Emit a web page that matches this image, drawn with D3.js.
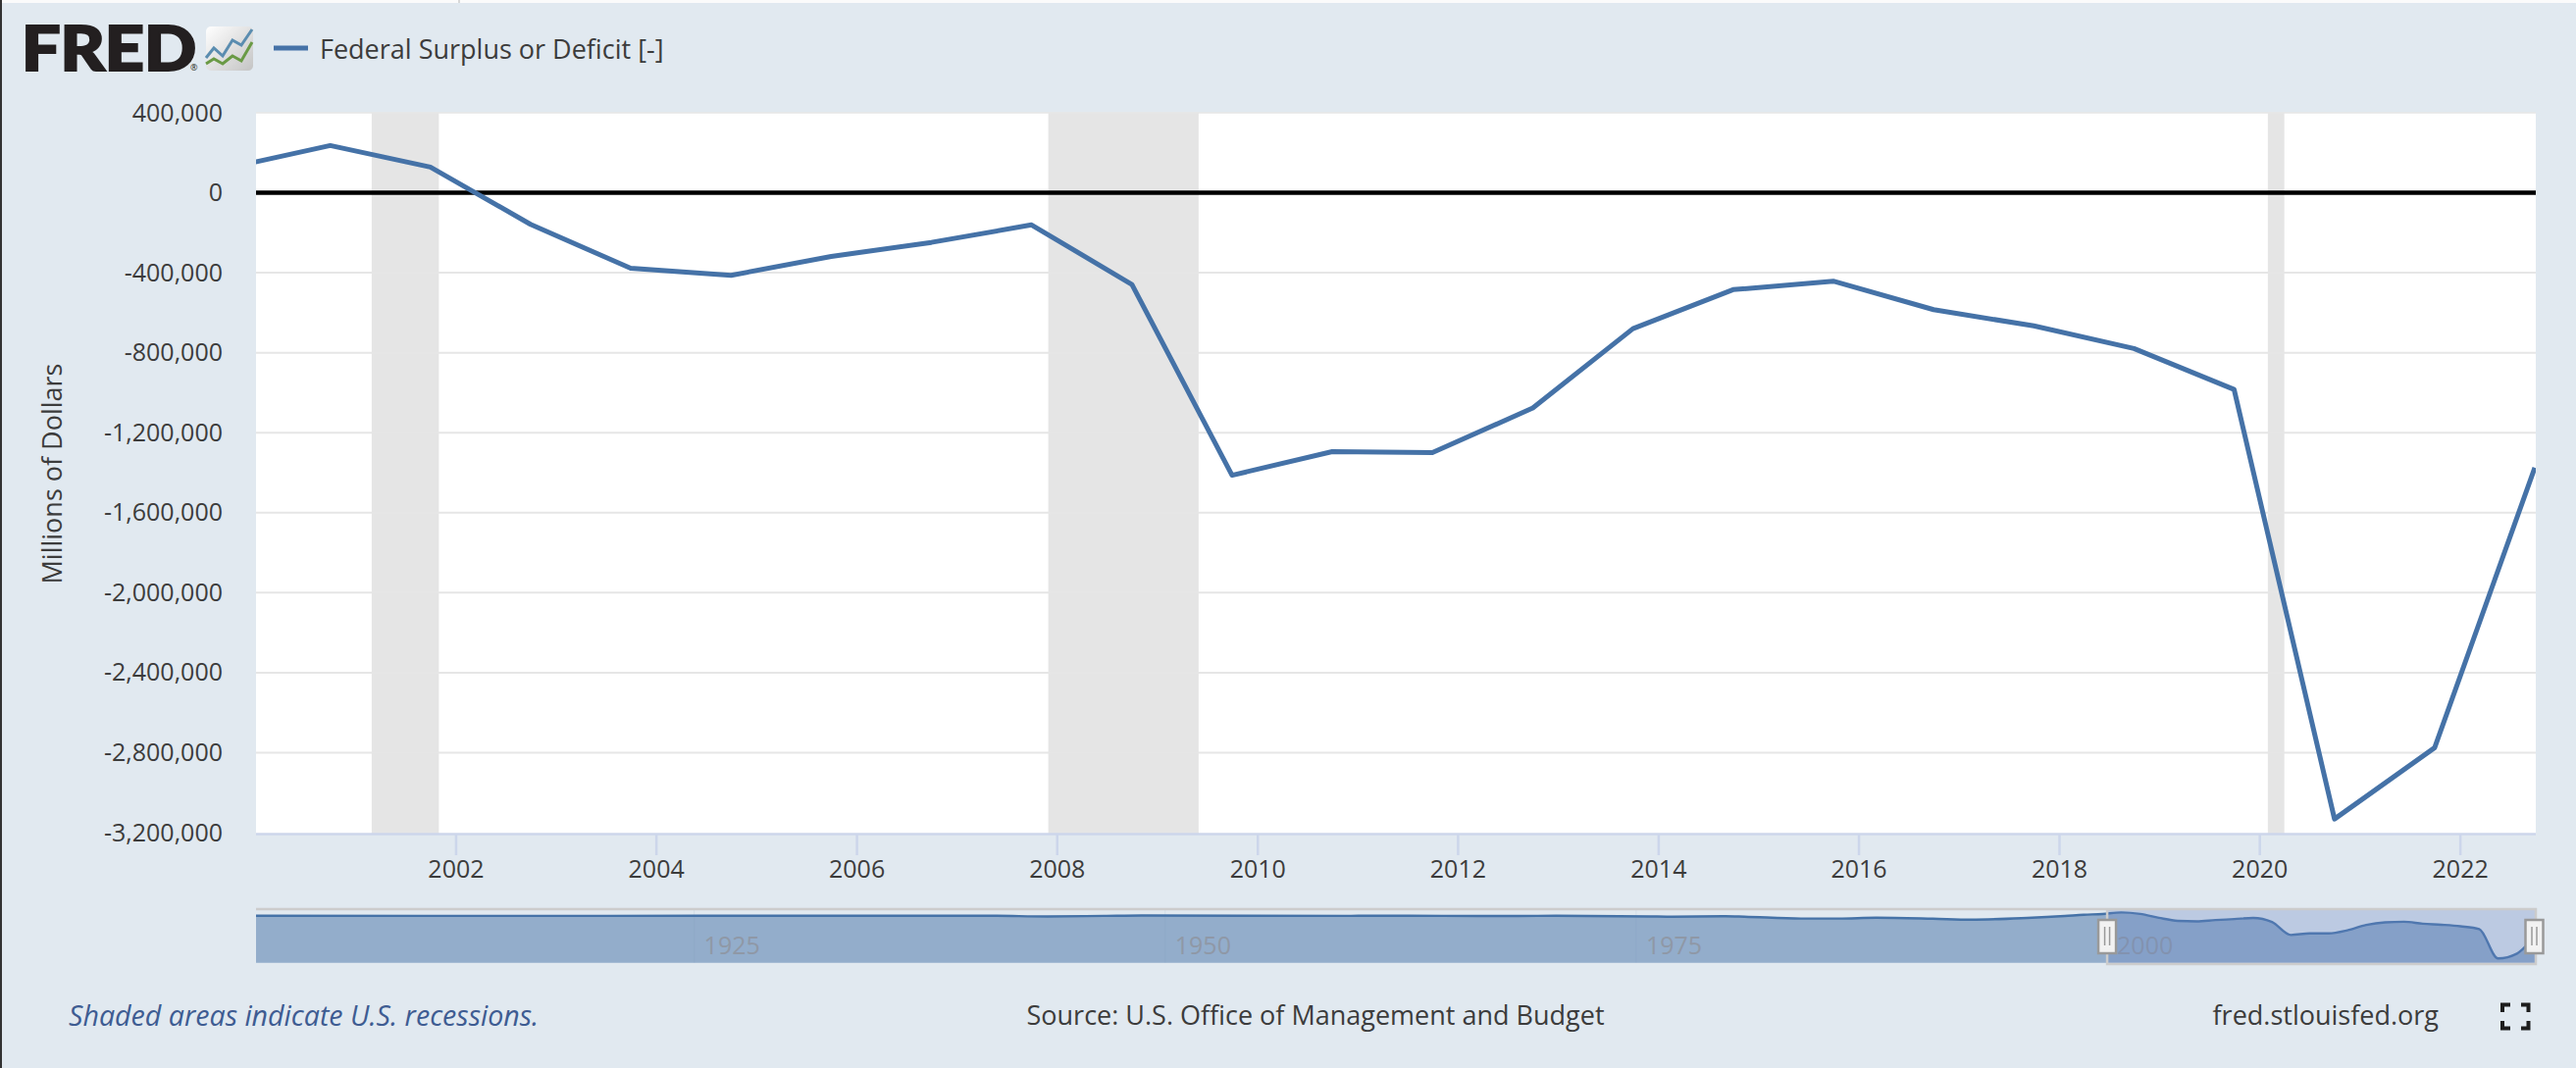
<!DOCTYPE html>
<html><head><meta charset="utf-8">
<script src="https://cdn.jsdelivr.net/npm/d3@7"></script>
<style>
html,body{margin:0;padding:0;background:#e1e9f0;overflow:hidden}
svg{display:block}
text{font-family:"Open Sans",sans-serif}
</style></head><body>
<svg id="c" width="2626" height="1089"></svg>
<script>
// FY observations, dated 1 Oct of each year (millions of dollars)
const years = [1999,2000,2001,2002,2003,2004,2005,2006,2007,2008,2009,2010,2011,2012,2013,2014,2015,2016,2017,2018,2019,2020,2021,2022];
const deficit = [125600,236200,128200,-157800,-377600,-412700,-318300,-248200,-160700,-458600,-1412700,-1294400,-1299600,-1076600,-679800,-484600,-442000,-584700,-665800,-779000,-984000,-3132000,-2775000,-1375000];
// Earlier history seen only in the navigator
const histYears = [1901,1919,1930,1940,1943,1946,1948,1959,1960,1968,1970,1975,1976,1979,1980,1983,1985,1987,1990,1992,1995,1997,1998];
const histDeficit = [60,-13400,700,-2900,-54500,-15900,11800,-12800,300,-25200,-2800,-53200,-73700,-40700,-73800,-207800,-212300,-149700,-221000,-290300,-164000,-21900,69300];
const recessions = [["2001-03-01","2001-11-01"],["2007-12-01","2009-06-01"],["2020-02-01","2020-04-01"]];
const yTicks = [400000,0,-400000,-800000,-1200000,-1600000,-2000000,-2400000,-2800000,-3200000];
const xTickYears = [2002,2004,2006,2008,2010,2012,2014,2016,2018,2020,2022];
const navTickYears = [1925,1950,1975,2000];
const seriesName = "Federal Surplus or Deficit [-]";
const yTitle = "Millions of Dollars";

const svg = d3.select("#c");
const L=261,R=2585,T=115,B=849,AX=850;
const NT=927,NB=981.7,NZero=933.7;
const blue="#4572a7", ink="#3c3c3c";
const fd=y=>new Date(Date.UTC(y,9,1));
const jan=y=>new Date(Date.UTC(y,0,1));
const fmt=d3.formatLocale({decimal:".",thousands:",",grouping:[3],currency:["$",""],minus:"-"}).format(",");

svg.append("rect").attr("width",2626).attr("height",1089).attr("fill","#e1e9f0");
svg.append("rect").attr("width",2626).attr("height",3).attr("fill","#fbfbfb");
svg.append("rect").attr("x",467).attr("width",2).attr("height",3).attr("fill","#d8d8d8");
svg.append("rect").attr("width",2).attr("height",1089).attr("fill","#333333");

const x=d3.scaleUtc().domain([jan(2000),fd(2022)]).range([260,2584]);
const y=d3.scaleLinear().domain([400000,-3200000]).range([T,B]);

svg.append("rect").attr("x",L).attr("y",T).attr("width",R-L).attr("height",AX-T).attr("fill","#fff");
const defs=svg.append("defs");
defs.append("clipPath").attr("id","plot").append("rect").attr("x",L).attr("y",T-4).attr("width",R-L).attr("height",AX-T+4);

// recessions
svg.append("g").selectAll("rect").data(recessions).join("rect")
 .attr("x",d=>x(new Date(d[0]))).attr("y",T).attr("width",d=>x(new Date(d[1]))-x(new Date(d[0]))).attr("height",AX-T).attr("fill","#e5e5e5");

// y axis + grid
const ya=svg.append("g").attr("transform",`translate(${L},0)`).call(d3.axisLeft(y).tickValues(yTicks).tickSize(0).tickPadding(34).tickFormat(fmt));
ya.select(".domain").remove();
ya.selectAll("text").attr("font-size",25).attr("fill",ink).style("font-family",'"Open Sans"');
svg.append("g").selectAll("line").data(yTicks.filter(v=>v!==0&&v!==400000&&v!==-3200000)).join("line")
 .attr("x1",L).attr("x2",R).attr("y1",d=>y(d)).attr("y2",d=>y(d)).attr("stroke","#e6e6e6").attr("stroke-width",2);
svg.append("line").attr("x1",L).attr("x2",R).attr("y1",T).attr("y2",T).attr("stroke","#e6e6e6").attr("stroke-width",1.5);
svg.append("line").attr("x1",L).attr("x2",R).attr("y1",y(0)).attr("y2",y(0)).attr("stroke","#000").attr("stroke-width",4.5);

svg.append("text").attr("transform","translate(53,483) rotate(-90)").attr("text-anchor","middle").attr("dy","0.36em").attr("font-size",27).attr("fill",ink).text(yTitle);

// x axis
const xa=svg.append("g").attr("transform",`translate(0,${AX})`).call(d3.axisBottom(x).tickValues(xTickYears.map(jan)).tickSize(22).tickPadding(5).tickFormat(d3.utcFormat("%Y")));
xa.select(".domain").remove();
xa.selectAll("line").attr("stroke","#ccd6eb").attr("stroke-width",2.5);
xa.selectAll("text").attr("font-size",25).attr("fill",ink).style("font-family",'"Open Sans"');
svg.append("line").attr("x1",L).attr("x2",R).attr("y1",AX+.5).attr("y2",AX+.5).attr("stroke","#ccd6eb").attr("stroke-width",2.5);

// series
const pts=years.map((yr,i)=>[fd(yr),deficit[i]]);
svg.append("path").attr("clip-path","url(#plot)").attr("fill","none").attr("stroke",blue).attr("stroke-width",5).attr("stroke-linejoin","round")
 .attr("d",d3.line().x(d=>x(d[0])).y(d=>y(d[1]))(pts));

// legend
svg.append("line").attr("x1",279).attr("x2",314).attr("y1",49).attr("y2",49).attr("stroke",blue).attr("stroke-width",5);
svg.append("text").attr("x",326).attr("y",50).attr("dy","0.36em").attr("font-size",27).attr("fill",ink).text(seriesName);

// navigator
const nx=d3.scaleUtc().domain([fd(1901),fd(2022)]).range([L,R]);
const ny=d3.scaleLinear().domain([0,-3132000]).range([NZero,977.3]);
const navPts=histYears.map((yr,i)=>[fd(yr),histDeficit[i]]).concat(pts);
const sel=nx(jan(2000));
svg.append("path").attr("fill","#93adcb").attr("d",d3.area().curve(d3.curveMonotoneX).x(d=>nx(d[0])).y0(NB).y1(d=>ny(d[1]))(navPts));
svg.append("g").selectAll("line").data(navTickYears).join("line").attr("x1",d=>nx(jan(d))).attr("x2",d=>nx(jan(d))).attr("y1",NT).attr("y2",NB).attr("stroke","#7f97b5").attr("stroke-opacity",.12);
svg.append("path").attr("fill","none").attr("stroke",blue).attr("stroke-width",2.4).attr("d",d3.line().curve(d3.curveMonotoneX).x(d=>nx(d[0])).y(d=>ny(d[1]))(navPts));
svg.append("g").selectAll("text").data(navTickYears).join("text").attr("x",d=>nx(jan(d))+10).attr("y",964).attr("dy","0.36em").attr("font-size",25).attr("fill","#8f98a6").text(d=>d);
svg.append("rect").attr("x",sel).attr("y",NT).attr("width",R-sel).attr("height",983-NT).attr("fill","rgb(102,133,194)").attr("fill-opacity",.3);
svg.append("path").attr("fill","none").attr("stroke","#cccccc").attr("stroke-width",2.5)
 .attr("d",`M${L},${NT}H${R}V983H${sel}V${NT}`);
function handle(cx){
 const g=svg.append("g");
 g.append("rect").attr("x",cx-9).attr("y",938).attr("width",18).attr("height",34).attr("fill","#f2f2f2").attr("stroke","#999").attr("stroke-width",2.5);
 [-2.5,2.5].forEach(o=>g.append("line").attr("x1",cx+o).attr("x2",cx+o).attr("y1",945).attr("y2",964).attr("stroke","#999").attr("stroke-width",1.5));
}
handle(sel); handle(R-1.5);

// footer
svg.append("text").attr("x",70).attr("y",1035.5).attr("dy","0.36em").attr("font-size",28.6).attr("font-style","italic").attr("fill","#3e5c92").text("Shaded areas indicate U.S. recessions.");
svg.append("text").attr("x",1341).attr("y",1035.5).attr("dy","0.36em").attr("text-anchor","middle").attr("font-size",27).attr("fill",ink).text("Source: U.S. Office of Management and Budget");
svg.append("text").attr("x",2486).attr("y",1035.5).attr("dy","0.36em").attr("text-anchor","end").attr("font-size",27).attr("fill",ink).text("fred.stlouisfed.org");

// expand icon
const ic=svg.append("g").attr("fill","none").attr("stroke","#1d1d1d").attr("stroke-width",4);
["M2551,1032V1024.5H2559","M2570,1024.5H2577.5V1032","M2551,1041V1048.5H2559","M2570,1048.5H2577.5V1041"].forEach(d=>ic.append("path").attr("d",d));

// logo
const grad=defs.append("linearGradient").attr("id","lg").attr("x1",0).attr("y1",0).attr("x2",1).attr("y2",1);
grad.append("stop").attr("offset",0).attr("stop-color","#ffffff");
grad.append("stop").attr("offset",1).attr("stop-color","#c4c4c4");
svg.append("text").attr("x",22).attr("y",71.5).attr("font-size",62).attr("font-weight",900).style("font-family","Lato").attr("fill","#231f20").attr("stroke","#231f20").attr("stroke-width",2.2).attr("textLength",178).attr("lengthAdjust","spacingAndGlyphs").text("FRED");
svg.append("text").attr("x",194).attr("y",72).attr("font-size",9).attr("fill","#231f20").text("®");
svg.append("rect").attr("x",210).attr("y",27).attr("width",48).attr("height",45).attr("rx",5).attr("fill","url(#lg)");
const logoLine=d3.line();
svg.append("path").attr("fill","none").attr("stroke","#5b8db0").attr("stroke-width",3).attr("d",logoLine([[210,59],[218,49],[227,57],[237,41],[246,46],[257,30]]));
svg.append("path").attr("fill","none").attr("stroke","#6a9a45").attr("stroke-width",3).attr("d",logoLine([[210,65],[218,60],[227,65],[237,57],[246,62],[257,43]]));
</script></body></html>
